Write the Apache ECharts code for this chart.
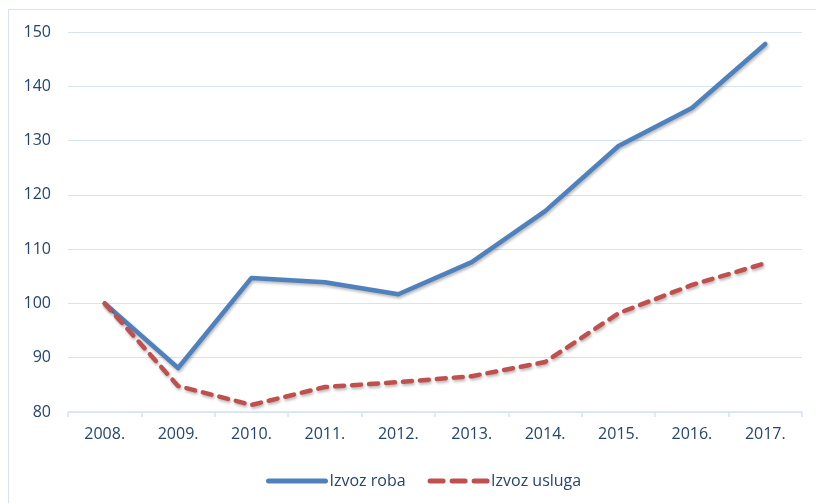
<!DOCTYPE html>
<html>
<head>
<meta charset="utf-8">
<script src="https://cdn.jsdelivr.net/npm/echarts@6/dist/echarts.min.js"></script>
<style>
  html, body { margin: 0; padding: 0; background: #fff; }
  #chart { width: 816px; height: 503px; }
</style>
</head>
<body>
<div id="chart"></div>
<script>
const years = ['2008.', '2009.', '2010.', '2011.', '2012.', '2013.', '2014.', '2015.', '2016.', '2017.'];
const izvozRoba = [100, 88.1, 104.7, 103.9, 101.7, 107.6, 117, 129, 136, 147.8];
const izvozUsluga = [100, 84.8, 81.3, 84.6, 85.5, 86.6, 89.2, 98.2, 103.4, 107.4];

const textColor = '#24456f';
const gridColor = '#d6e3f3';
const font = '"Open Sans", sans-serif';

let chart = echarts.init(document.getElementById('chart'));
chart.setOption({
	animation: false,
	backgroundColor: '#fff',
	graphic: [{
		type: 'rect',
		shape: { x: 8.5, y: 9.5, width: 900, height: 600 },
		style: { fill: 'none', stroke: '#d9e2ee', lineWidth: 1 },
		silent: true
	}],
	grid: { left: 68, right: 14, top: 32, bottom: 91 },
	legend: {
		left: 261,
		top: 468,
		itemWidth: 57,
		itemHeight: 14,
		itemGap: 22,
		itemStyle: { opacity: 0 },
		lineStyle: { width: 5 },
		textStyle: { color: textColor, fontSize: 16, fontFamily: font, padding: [0, 0, 0, -1] },
		data: [
			{ name: 'Izvoz roba' },
			{ name: 'Izvoz usluga', lineStyle: { type: [13, 9], width: 5 } }
		]
	},
	xAxis: {
		type: 'category',
		data: years,
		boundaryGap: true,
		axisLine: { lineStyle: { color: gridColor, width: 1.5 } },
		axisTick: { show: true, length: 5, lineStyle: { color: gridColor, width: 1.5 } },
		axisLabel: { color: textColor, fontSize: 16, fontFamily: font, margin: 14 }
	},
	yAxis: {
		type: 'value',
		min: 80,
		max: 150,
		interval: 10,
		axisLine: { show: false },
		axisTick: { show: false },
		axisLabel: { color: textColor, fontSize: 16, fontFamily: font, margin: 17 },
		splitLine: { lineStyle: { color: gridColor, width: 1.2 } }
	},
	series: [{
		name: 'Izvoz roba',
		type: 'line',
		data: izvozRoba,
		symbol: 'none',
		color: '#4f81bd',
		lineStyle: {
			width: 4.5,
			color: '#4f81bd',
			cap: 'round',
			join: 'round',
			shadowColor: 'rgba(0,0,0,0.28)',
			shadowBlur: 3,
			shadowOffsetX: 1,
			shadowOffsetY: 2
		}
	}, {
		name: 'Izvoz usluga',
		type: 'line',
		data: izvozUsluga,
		symbol: 'none',
		color: '#c0504d',
		lineStyle: {
			width: 4.5,
			color: '#c0504d',
			type: [9, 8],
			cap: 'round',
			join: 'round',
			shadowColor: 'rgba(0,0,0,0.28)',
			shadowBlur: 3,
			shadowOffsetX: 1,
			shadowOffsetY: 2
		}
	}]
});
</script>
</body>
</html>
